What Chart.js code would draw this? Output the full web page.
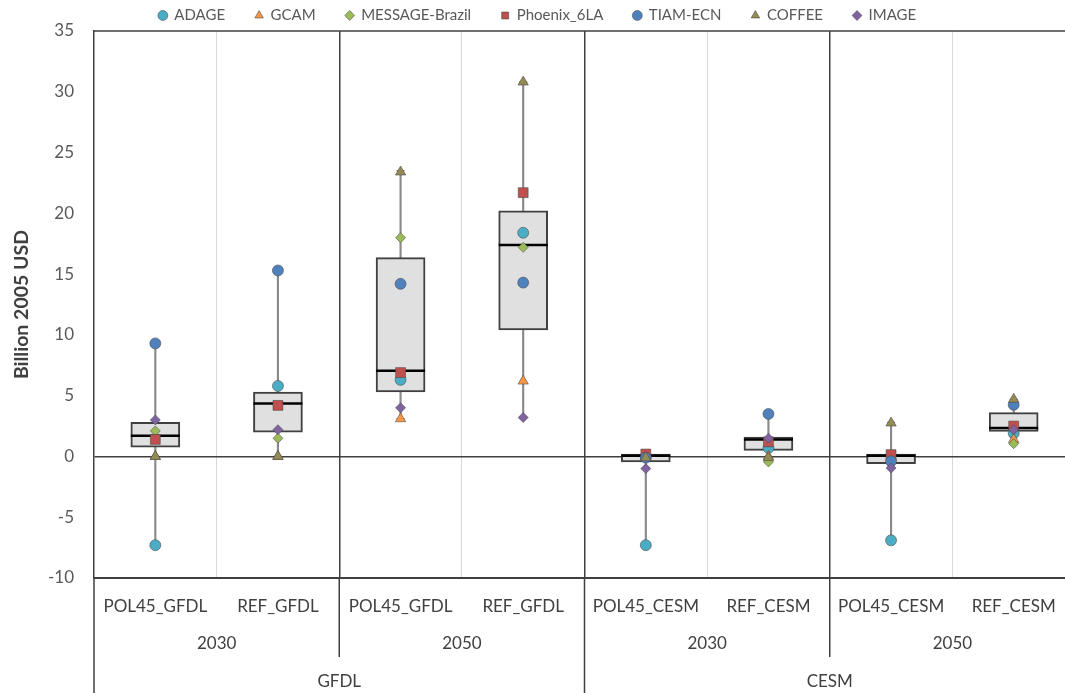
<!DOCTYPE html>
<html>
<head>
<meta charset="utf-8">
<script src="https://cdn.jsdelivr.net/npm/chart.js@4.4.1/dist/chart.umd.min.js"></script>
<style>
  html, body { margin: 0; padding: 0; background: #fff; overflow: hidden; }
  canvas { display: block; }
</style>
</head>
<body>
<canvas id="grafico" width="1075" height="693"></canvas>
<script>
const categorias = ["POL45_GFDL", "REF_GFDL", "POL45_GFDL", "REF_GFDL", "POL45_CESM", "REF_CESM", "POL45_CESM", "REF_CESM"];
const anos = ["2030", "2050", "2030", "2050"];
const modelosClima = ["GFDL", "CESM"];

// valores por modelo (bilhões USD 2005)
const adage   = [-7.3, 5.8, 6.3, 18.4, -7.3, 0.7, -6.9, 1.9];
const gcam    = [0, 0, 3.1, 6.2, 0, 0, 0, 1.4];
const message = [2.1, 1.5, 18.0, 17.2, 0, -0.45, 0, 1.05];
const phoenix = [1.4, 4.2, 6.9, 21.7, 0.2, 1.2, 0.15, 2.5];
const tiam    = [9.3, 15.3, 14.2, 14.3, -0.1, 3.5, -0.4, 4.25];
const coffee  = [0, 0, 23.4, 30.8, -0.1, -0.1, 2.75, 4.7];
const image   = [3.0, 2.2, 4.0, 3.2, -1.0, 1.5, -0.95, 2.2];

// caixas
const q1      = [0.77, 2.0, 5.3, 10.4, -0.46, 0.5, -0.6, 2.05];
const mediana = [1.7, 4.35, 7.05, 17.4, 0.05, 1.4, 0.05, 2.35];
const q3      = [2.8, 5.3, 16.35, 20.2, 0.2, 1.6, 0.2, 3.6];
const minimo  = [-7.3, 0, 3.1, 3.2, -7.3, -0.45, -7.1, 1.05];
const maximo  = [9.3, 15.3, 23.5, 30.8, 0.2, 3.5, 2.8, 4.7];

const yTicks = [-10, -5, 0, 5, 10, 15, 20, 25, 30, 35];

const fonte = "Lato, 'Open Sans', sans-serif";
const cinzaTexto = "#595959";
const textoEscuro = "#404040";
const linhaEscura = "#404040";

const modelos = [
  { nome: "ADAGE", dados: adage, cor: "#4bacc6", estilo: "circle", raio: 5.5 },
  { nome: "GCAM", dados: gcam, cor: "#f79646", estilo: "triangle", raio: 6 },
  { nome: "MESSAGE-Brazil", dados: message, cor: "#9bbb59", estilo: "rectRot", raio: 5 },
  { nome: "Phoenix_6LA", dados: phoenix, cor: "#c0504d", estilo: "rect", raio: 7 },
  { nome: "TIAM-ECN", dados: tiam, cor: "#4f81bd", estilo: "circle", raio: 5.5 },
  { nome: "COFFEE", dados: coffee, cor: "#948a54", estilo: "triangle", raio: 6 },
  { nome: "IMAGE", dados: image, cor: "#8064a2", estilo: "rectRot", raio: 5 }
];

const datasetsModelos = modelos.map((m, i) => ({
  type: "line",
  label: m.nome,
  data: m.dados,
  showLine: false,
  pointStyle: m.estilo,
  pointRadius: m.raio,
  pointBackgroundColor: m.cor,
  pointBorderColor: "rgba(70,70,70,0.55)",
  pointBorderWidth: 1,
  backgroundColor: m.cor,
  borderColor: m.cor,
  order: modelos.length - i
}));

// linhas extras: topo da área e separadores nos rótulos
const extrasPlugin = {
  id: "extras",
  afterDraw(chart) {
    const { ctx, chartArea, scales } = chart;
    const x = scales.x;
    const larg = x.getPixelForValue(1) - x.getPixelForValue(0);
    const borda = (i) => x.getPixelForValue(0) - larg / 2 + i * larg;
    const h = chart.height;

    ctx.save();
    ctx.strokeStyle = linhaEscura;
    ctx.lineWidth = 1.5;
    ctx.beginPath();
    ctx.moveTo(chartArea.left, chartArea.top);
    ctx.lineTo(chartArea.right, chartArea.top);
    ctx.stroke();

    ctx.beginPath();
    ctx.moveTo(chartArea.left, chartArea.bottom);
    ctx.lineTo(chartArea.left, h);
    [2, 6].forEach((i) => {
      ctx.moveTo(borda(i), chartArea.bottom);
      ctx.lineTo(borda(i), chartArea.bottom + 79);
    });
    ctx.moveTo(borda(4), chartArea.bottom);
    ctx.lineTo(borda(4), h);
    ctx.stroke();

    ctx.fillStyle = textoEscuro;
    ctx.font = "17px " + fonte;
    ctx.textAlign = "center";
    ctx.textBaseline = "middle";
    anos.forEach((a, i) => {
      ctx.fillText(a, (borda(2 * i) + borda(2 * i + 2)) / 2, chartArea.bottom + 66);
    });
    modelosClima.forEach((g, i) => {
      ctx.fillText(g, (borda(4 * i) + borda(4 * i + 4)) / 2, chartArea.bottom + 104);
    });
    ctx.restore();
  }
};

new Chart(document.getElementById("grafico"), {
  type: "bar",
  data: {
    labels: categorias,
    datasets: [
      ...datasetsModelos,
      {
        type: "line",
        label: "mediana",
        data: mediana,
        showLine: false,
        pointStyle: "line",
        pointRadius: 24.5,
        pointBorderColor: "#000",
        pointBorderWidth: 2.5,
        order: 8
      },
      {
        type: "line",
        label: "limite_min",
        data: minimo,
        showLine: false,
        pointStyle: "line",
        pointRadius: 4,
        pointBorderColor: "#808080",
        pointBorderWidth: 1.5,
        order: 9
      },
      {
        type: "line",
        label: "limite_max",
        data: maximo,
        showLine: false,
        pointStyle: "line",
        pointRadius: 4,
        pointBorderColor: "#808080",
        pointBorderWidth: 1.5,
        order: 9
      },
      {
        label: "caixa",
        data: q1.map((v, i) => [v, q3[i]]),
        backgroundColor: "#e0e0e0",
        borderColor: linhaEscura,
        borderWidth: 2,
        borderSkipped: false,
        barThickness: 49,
        grouped: false,
        order: 10
      },
      {
        label: "bigode",
        data: minimo.map((v, i) => [v, maximo[i]]),
        backgroundColor: "#8a8a8a",
        borderWidth: 0,
        barThickness: 1.5,
        grouped: false,
        order: 11
      }
    ]
  },
  options: {
    responsive: false,
    animation: false,
    layout: { autoPadding: false, padding: { top: -22, left: 0, right: 0, bottom: 0 } },
    plugins: {
      tooltip: { enabled: false },
      legend: {
        position: "top",
        maxHeight: 53,
        labels: {
          usePointStyle: true,
          boxHeight: 7,
          boxWidth: 8,
          padding: 30,
          color: cinzaTexto,
          font: { family: fonte, size: 15 },
          filter: (item) => item.datasetIndex < modelos.length,
          sort: (a, b) => a.datasetIndex - b.datasetIndex
        }
      }
    },
    scales: {
      x: {
        offset: true,
        grid: {
          offset: true,
          drawTicks: false,
          color: (c) => (c.index === 0 ? "transparent" : c.index % 2 === 0 ? linhaEscura : "#d9d9d9"),
          lineWidth: (c) => (c.index % 2 === 0 ? 1.5 : 1)
        },
        border: { display: true, color: linhaEscura, width: 2 },
        ticks: {
          color: textoEscuro,
          font: { family: fonte, size: 17 },
          padding: 18,
          maxRotation: 0,
          autoSkip: false
        },
        afterFit(scale) {
          scale.height = 115;
          scale.paddingLeft = 0;
          scale.paddingRight = 0;
        }
      },
      y: {
        min: -10,
        max: 35,
        afterBuildTicks(scale) { scale.ticks = yTicks.map((v) => ({ value: v })); },
        grid: {
          drawTicks: false,
          color: (c) => (c.tick && c.tick.value === 0 ? linhaEscura : "transparent"),
          lineWidth: 1.5
        },
        border: { display: true, color: linhaEscura, width: 1.5 },
        ticks: {
          color: cinzaTexto,
          font: { family: fonte, size: 17 },
          padding: 20
        },
        title: {
          display: true,
          text: "Billion 2005 USD",
          color: textoEscuro,
          font: { family: fonte, size: 19.5, weight: "bold" },
          padding: { top: 10, bottom: 0 }
        },
        afterFit(scale) { scale.width = 94; }
      }
    }
  },
  plugins: [extrasPlugin]
});
</script>
</body>
</html>
